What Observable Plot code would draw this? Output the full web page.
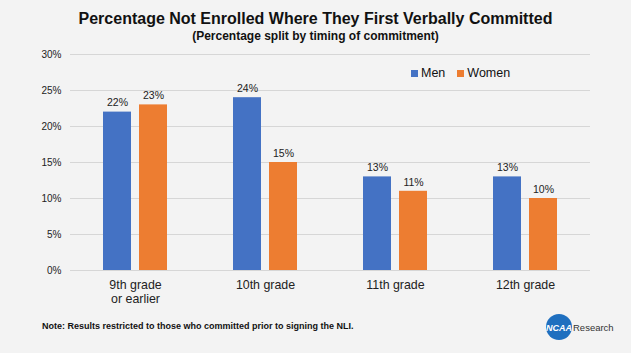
<!DOCTYPE html>
<html>
<head>
<meta charset="utf-8">
<script src="https://cdn.jsdelivr.net/npm/d3@7"></script>
<script src="https://cdn.jsdelivr.net/npm/@observablehq/plot@0.6"></script>
<style>
  html, body { margin: 0; padding: 0; }
  body { width: 631px; height: 353px; background: #f3f3f3; position: relative; overflow: hidden; font-family: "Liberation Sans", Arial, sans-serif; color: #111; }
  #title { position: absolute; left: 0; width: 631px; top: 10px; text-align: center; font-weight: bold; font-size: 16px; }
  #subtitle { position: absolute; left: 0; width: 631px; top: 29px; text-align: center; font-weight: bold; font-size: 12px; }
  #chart { position: absolute; left: 0; top: 0; }
  #legend { position: absolute; left: 411px; top: 66px; font-size: 12.5px; display: flex; align-items: center; }
  #legend span.sw { display: inline-block; width: 7px; height: 7px; margin-right: 3px; }
  #legend span.lab { margin-right: 12px; }
  #note { position: absolute; left: 42px; top: 321px; font-weight: bold; font-size: 9px; }
  #logo { position: absolute; left: 545px; top: 312px; }
</style>
</head>
<body>
<div id="chart"></div>
<div id="title">Percentage Not Enrolled Where They First Verbally Committed</div>
<div id="subtitle">(Percentage split by timing of commitment)</div>
<div id="legend"></div>
<div id="note">Note: Results restricted to those who committed prior to signing the NLI.</div>
<svg id="logo" width="80" height="32">
  <circle cx="14" cy="15" r="13" fill="#1f6fbf"/>
  <text x="14" y="18.5" text-anchor="middle" font-family="Liberation Sans, Arial" font-weight="bold" font-style="italic" font-size="9" fill="#fff">NCAA</text>
  <text x="28" y="19" font-family="Liberation Sans, Arial" font-size="9.5" fill="#333">Research</text>
</svg>
<script>
const grades = ["9th grade\nor earlier", "10th grade", "11th grade", "12th grade"];
const series = ["Men", "Women"];
const menValues = [22, 24, 13, 13];
const womenValues = [23, 15, 11, 10];
const yTicks = [0, 5, 10, 15, 20, 25, 30];
const colors = ["#4472c4", "#ed7d31"];

const data = grades.flatMap((g, i) => [
  {grade: g, sex: "Men", value: menValues[i]},
  {grade: g, sex: "Women", value: womenValues[i]}
]);

const chart = Plot.plot({
  width: 631,
  height: 310,
  marginTop: 54,
  marginBottom: 40,
  marginLeft: 69,
  marginRight: 40,
  style: {background: "transparent", fontFamily: "Liberation Sans, Arial, sans-serif", fontSize: "10px", color: "#222"},
  fx: {domain: grades, padding: 0, axis: null, label: null},
  x: {domain: series, paddingInner: 0.216, paddingOuter: 0.871, axis: null},
  y: {domain: [0, 30], axis: null},
  color: {domain: series, range: colors},
  marks: [
    Plot.gridY(yTicks, {stroke: "#d6d6d6", strokeOpacity: 1, strokeWidth: 1}),
    Plot.barY(data, {fx: "grade", x: "sex", y: "value", fill: "sex"}),
    Plot.text(data, {fx: "grade", x: "sex", y: "value", text: d => d.value + "%", dy: -9, fontSize: 10.5, fill: "#222"}),
    Plot.axisY(yTicks, {anchor: "left", tickSize: 0, tickPadding: 9, tickFormat: d => d + "%", fontSize: 10, label: null}),
    Plot.axisFx({anchor: "bottom", tickSize: 0, tickPadding: 8, fontSize: 12.4, lineHeight: 1.15, label: null, fill: "#222"})
  ]
});
document.getElementById("chart").appendChild(chart);

const legend = document.getElementById("legend");
series.forEach((s, i) => {
  const sw = document.createElement("span");
  sw.className = "sw";
  sw.style.background = colors[i];
  const lab = document.createElement("span");
  lab.className = "lab";
  lab.textContent = s;
  legend.appendChild(sw);
  legend.appendChild(lab);
});
</script>
</body>
</html>
